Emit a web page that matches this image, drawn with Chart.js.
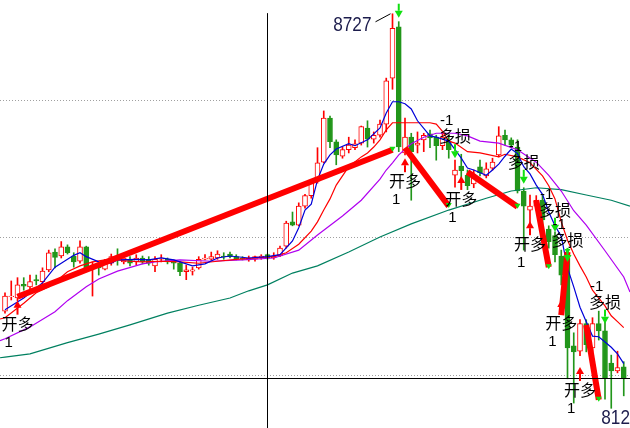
<!DOCTYPE html>
<html>
<head>
<meta charset="utf-8">
<script src="https://cdn.jsdelivr.net/npm/chart.js@4.4.1/dist/chart.umd.min.js"></script>
<style>
  html, body { margin: 0; padding: 0; background: #fff; }
  #wrap { width: 630px; height: 428px; }
</style>
</head>
<body>
<div id="wrap"><canvas id="kline" width="630" height="428"></canvas></div>
<script>
// K-line bars, index 0 = first visible bar
const opens = [8274,8296,8294,8315,8311,8322,8319,8337,8364,8358, 8372,8358,8350,8372,8340,8341,8338,8347,8358,8349,
  8352,8349,8355,8353,8343,8353,8353,8350,8347,8334, 8335,8340,8353,8353,8355,8358,8361,8357,8355,8352,
  8353,8355,8360,8355,8358,8373,8410,8405,8434,8450, 8472,8501,8568,8532,8510,8520,8523,8530,8553,8536,
  8542,8559,8629,8707,8515,8539,8527,8535,8544,8539, 8526,8533,8481,8495,8481,8468,8494,8480,8492,8512,
  8542,8535,8524,8457,8428,8434,8443,8399,8389,8358, 8355,8221,8213,8255,8218,8255,8244,8195,8183,8189];
const highs = [8302,8320,8325,8325,8329,8329,8340,8367,8369,8380, 8375,8363,8381,8373,8349,8347,8353,8361,8369,8360,
  8357,8360,8358,8357,8357,8360,8355,8352,8350,8344, 8341,8357,8360,8364,8366,8363,8364,8360,8357,8358,
  8358,8360,8361,8363,8373,8411,8425,8439,8452,8474, 8523,8579,8571,8535,8524,8539,8535,8556,8564,8547,
  8565,8629,8727,8715,8568,8545,8547,8545,8550,8542, 8547,8542,8504,8513,8489,8489,8504,8500,8507,8555,
  8550,8538,8535,8462,8451,8450,8450,8404,8395,8367, 8364,8241,8261,8261,8264,8274,8264,8207,8213,8197];
const lows = [8271,8291,8290,8306,8306,8314,8314,8334,8340,8355, 8361,8341,8347,8334,8297,8329,8337,8344,8344,8346,
  8343,8344,8346,8344,8334,8349,8346,8338,8328,8322, 8329,8338,8352,8352,8353,8353,8355,8352,8352,8350,
  8350,8353,8353,8353,8357,8370,8404,8404,8431,8446, 8469,8500,8523,8497,8507,8515,8520,8527,8524,8530,
  8539,8547,8612,8517,8512,8443,8515,8517,8523,8504, 8520,8507,8463,8472,8459,8462,8480,8477,8489,8509,
  8527,8523,8454,8367,8401,8428,8398,8370,8349,8314, 8171,8134,8206,8212,8212,8230,8140,8126,8180,8145];
const closes = [8297,8297,8314,8312,8319,8320,8335,8363,8356,8372, 8363,8349,8372,8337,8344,8340,8350,8357,8352,8355,
  8347,8355,8349,8347,8353,8355,8349,8347,8334,8337, 8337,8353,8355,8357,8361,8357,8357,8353,8353,8355,
  8357,8358,8355,8358,8370,8408,8405,8434,8450,8469, 8500,8568,8532,8512,8520,8527,8529,8555,8536,8542,
  8559,8625,8705,8524,8539,8517,8530,8542,8538,8526, 8539,8520,8489,8488,8465,8480,8485,8491,8501,8541,
  8535,8527,8457,8434,8434,8443,8413,8380,8360,8329, 8218,8212,8255,8223,8255,8244,8172,8183,8188,8172];

// moving averages: [bar, price]
const maFast = [[0,8276],[3,8294],[6,8317],[8,8341],[9,8347],[11,8359],[12,8363],[13,8357],[15,8349],[17,8347],
  [18,8352],[21,8353],[23,8352],[25,8355],[27,8352],[29,8346],[30,8343],[32,8346],[34,8355],[36,8358],
  [39,8355],[42,8357],[44,8360],[46,8381],[47,8401],[48,8428],[49,8437],[50,8474],[51,8498],[52,8512],
  [53,8521],[55,8529],[56,8526],[58,8535],[60,8553],[61,8576],[62,8593],[63,8593],[64,8590],[65,8582],
  [66,8564],[68,8541],[69,8539],[71,8533],[72,8520],[73,8507],[74,8492],[75,8489],[77,8481],[78,8489],
  [79,8498],[80,8510],[81,8521],[82,8514],[83,8494],[84,8483],[85,8466],[86,8452],[87,8425],[88,8404],
  [89,8388],[90,8340],[91,8311],[92,8280],[93,8258],[94,8236],[95,8235],[96,8227],[97,8219],[98,8209],[99,8194]];
const maMid = [[-0.8,8262],[0,8264],[3,8286],[5,8302],[7,8311],[9,8326],[10,8334],[12,8343],[14,8349],[16,8352],
  [18,8352],[20,8350],[22,8349],[25,8350],[28,8349],[31,8347],[34,8350],[37,8353],[40,8355],[43,8357],
  [45,8363],[47,8376],[49,8396],[50,8410],[51,8428],[52,8445],[53,8466],[54,8480],[55,8494],[57,8509],
  [58,8515],[59,8524],[60,8535],[61,8550],[62,8561],[68,8561],[69,8559],[70,8548],[71,8533],[72,8530],
  [74,8517],[76,8515],[79,8509],[80,8513],[82,8509],[84,8500],[86,8480],[87,8465],[88,8445],[89,8410],
  [90,8382],[91,8361],[92,8343],[93,8326],[94,8306],[95,8294],[96,8282],[97,8267],[98,8258],[99,8249]];
const maSlow = [[-0.8,8229],[0,8232],[4,8250],[8,8273],[10,8290],[13,8311],[15,8323],[18,8335],[22,8346],[24,8349],
  [28,8352],[33,8350],[38,8352],[43,8355],[47,8367],[50,8390],[54,8419],[57,8443],[60,8475],[61,8489],
  [62,8500],[63,8512],[65,8529],[67,8539],[69,8545],[72,8545],[74,8541],[76,8533],[79,8530],[82,8520],
  [85,8501],[87,8481],[89,8457],[91,8427],[93,8405],[96,8366],[99,8326],[100,8303]];
const maLong = [[-0.8,8203],[0,8204],[4,8209],[10,8226],[15,8239],[20,8253],[26,8271],[31,8283],[36,8294],[39,8305],
  [42,8314],[46,8332],[50,8343],[55,8364],[60,8387],[65,8407],[71,8428],[77,8446],[81,8457],[85,8462],
  [89,8459],[93,8451],[97,8443],[100,8434]];

// trade segments: entry bar/price -> exit bar/price
const tradeFromBar = [2, 64, 74, 85, 89, 93];
const tradeFromPrice = [8296, 8523, 8486, 8443, 8268, 8253];
const tradeToBar = [62, 71, 82, 87, 90, 95];
const tradeToPrice = [8520, 8434, 8433, 8341, 8364, 8139];

// signal arrows (price = arrow tip)
const buyBars = [2, 64, 73, 84, 89, 92];
const buyPrices = [8290, 8507, 8480, 8411, 8291, 8189];
const sellBars = [63, 72, 83, 88, 90, 96];
const sellPrices = [8721, 8507, 8468, 8395, 8349, 8255];
const sellLabelled = [false, true, true, true, true, true];

const gridPrices = [8596, 8387, 8177];
const crossBar = 42, crossPrice = 8172, crossTop = 8728;

const RED = '#ff0000';
const GREEN = '#22961a';
const LIME = '#10e010';

const bars = opens.map((o, i) => i);
const isUp = bars.map(i => closes[i] >= opens[i]);
const pts = arr => arr.map(([x, y]) => ({ x, y }));

function maLine(arr, color, order) {
  return {
    type: 'line', data: pts(arr), borderColor: color, borderWidth: 1.2,
    pointRadius: 0, tension: 0, order
  };
}

const tradeSets = tradeFromBar.map((b, k) => ({
  type: 'line',
  data: [{ x: b, y: tradeFromPrice[k] }, { x: tradeToBar[k], y: tradeToPrice[k] }],
  borderColor: RED, borderWidth: 6, borderCapStyle: 'butt',
  pointRadius: 0, tension: 0, order: 1
}));

function upArrow(ctx, px, tip, color) {
  ctx.fillStyle = color;
  ctx.beginPath();
  ctx.moveTo(px, tip);
  ctx.lineTo(px - 4, tip + 7);
  ctx.lineTo(px + 4, tip + 7);
  ctx.closePath();
  ctx.fill();
  ctx.fillRect(px - 1, tip + 7, 2, 7);
}

function downArrow(ctx, px, tip, color) {
  ctx.fillStyle = color;
  ctx.beginPath();
  ctx.moveTo(px, tip);
  ctx.lineTo(px - 4, tip - 7);
  ctx.lineTo(px + 4, tip - 7);
  ctx.closePath();
  ctx.fill();
  ctx.fillRect(px - 1, tip - 14, 2, 7);
}

const overlay = {
  id: 'overlay',
  beforeDatasetsDraw(chart) {
    const { ctx, chartArea, scales: { y } } = chart;
    ctx.save();
    ctx.strokeStyle = '#a0a0a0';
    ctx.lineWidth = 1;
    ctx.setLineDash([1, 2]);
    gridPrices.forEach(p => {
      const py = Math.round(y.getPixelForValue(p)) + 0.5;
      ctx.beginPath();
      ctx.moveTo(chartArea.left, py);
      ctx.lineTo(chartArea.right, py);
      ctx.stroke();
    });
    ctx.restore();
  },
  afterDatasetsDraw(chart) {
    const { ctx, chartArea, scales: { x, y } } = chart;
    ctx.save();

    // crosshair
    ctx.strokeStyle = '#000';
    ctx.lineWidth = 1;
    const cx = Math.floor(x.getPixelForValue(crossBar)) + 0.5;
    const cy = Math.floor(y.getPixelForValue(crossPrice)) + 0.5;
    ctx.beginPath();
    ctx.moveTo(cx, y.getPixelForValue(crossTop));
    ctx.lineTo(cx, chartArea.bottom);
    ctx.moveTo(chartArea.left, cy);
    ctx.lineTo(chartArea.right, cy);
    ctx.stroke();

    // small markers at the exit end of each trade
    ctx.fillStyle = LIME;
    tradeToBar.forEach((b, k) => {
      const px = x.getPixelForValue(b), py = y.getPixelForValue(tradeToPrice[k]);
      ctx.beginPath();
      ctx.moveTo(px - 3, py - 3);
      ctx.lineTo(px + 3, py - 3);
      ctx.lineTo(px, py + 2);
      ctx.closePath();
      ctx.fill();
    });

    const cjk = '16px "Noto Sans CJK SC", sans-serif';
    const num = '15px "Liberation Sans", Arial, sans-serif';
    ctx.textBaseline = 'alphabetic';
    ctx.textAlign = 'left';

    buyBars.forEach((b, k) => {
      const px = x.getPixelForValue(b), tip = y.getPixelForValue(buyPrices[k]);
      upArrow(ctx, px, tip, RED);
      ctx.fillStyle = '#000';
      ctx.font = cjk;
      ctx.fillText('开多', px - 16, tip + 29);
      ctx.font = num;
      ctx.fillText('1', px - 13, tip + 46);
    });

    sellBars.forEach((b, k) => {
      const px = x.getPixelForValue(b), tip = y.getPixelForValue(sellPrices[k]);
      downArrow(ctx, px, tip, LIME);
      if (!sellLabelled[k]) return;
      ctx.fillStyle = '#000';
      ctx.font = cjk;
      ctx.fillText('多损', px - 16, tip - 16);
      ctx.font = num;
      ctx.fillText('-1', px - 15, tip - 33);
    });

    // high / low price tags
    const hiVal = Math.max(...highs), hiBar = highs.indexOf(hiVal);
    const loVal = Math.min(...lows), loBar = lows.indexOf(loVal);
    const hx = x.getPixelForValue(hiBar), hy = y.getPixelForValue(hiVal);
    const lx = x.getPixelForValue(loBar), ly = y.getPixelForValue(loVal);

    ctx.strokeStyle = '#000';
    ctx.beginPath();
    ctx.moveTo(hx - 17, hy + 8);
    ctx.lineTo(hx - 2, hy);
    ctx.stroke();

    ctx.fillStyle = '#1c1c4c';
    ctx.font = '21px "Liberation Sans", Arial, sans-serif';
    ctx.save();
    ctx.translate(hx - 21, hy + 17);
    ctx.scale(0.82, 1);
    ctx.textAlign = 'right';
    ctx.fillText(String(hiVal), 0, 0);
    ctx.restore();

    ctx.save();
    ctx.translate(lx - 10, ly + 16);
    ctx.scale(0.82, 1);
    ctx.textAlign = 'left';
    ctx.fillText(String(loVal), 0, 0);
    ctx.restore();

    ctx.restore();
  }
};

new Chart(document.getElementById('kline'), {
  type: 'bar',
  data: {
    datasets: [
      {
        type: 'bar', label: 'wick',
        data: bars.map(i => ({ x: i, y: [lows[i], highs[i]] })),
        backgroundColor: bars.map(i => isUp[i] ? RED : GREEN),
        borderWidth: 0, barThickness: 1, grouped: false, order: 20
      },
      {
        type: 'bar', label: 'body',
        data: bars.map(i => ({ x: i, y: [opens[i], closes[i]] })),
        backgroundColor: bars.map(i => isUp[i] ? '#ffffff' : GREEN),
        borderColor: bars.map(i => isUp[i] ? RED : GREEN),
        borderWidth: 1, borderSkipped: false, barThickness: 5, grouped: false, order: 19
      },
      maLine(maLong, '#008060', 8),
      maLine(maSlow, '#b000f0', 7),
      maLine(maMid, '#ff0000', 6),
      maLine(maFast, '#0000d8', 5),
      ...tradeSets
    ]
  },
  options: {
    responsive: false,
    animation: false,
    events: [],
    layout: { padding: 0 },
    plugins: { legend: { display: false }, tooltip: { enabled: false } },
    scales: {
      x: { type: 'linear', min: -0.8, max: 100, display: false, offset: false },
      y: { type: 'linear', min: 8096, max: 8748, display: false }
    }
  },
  plugins: [overlay]
});
</script>
</body>
</html>
